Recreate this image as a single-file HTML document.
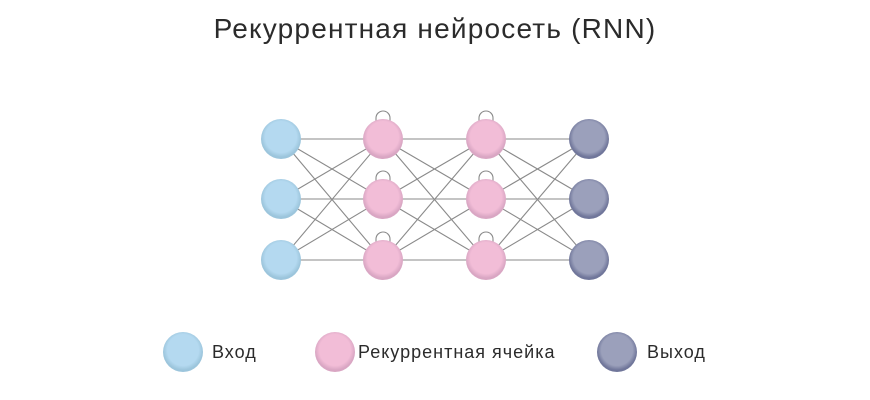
<!DOCTYPE html>
<html><head><meta charset="utf-8"><style>
html,body{margin:0;padding:0;background:#fff;}
svg{display:block}
</style></head><body>
<svg width="870" height="400" viewBox="0 0 870 400" xmlns="http://www.w3.org/2000/svg">
<defs>
<radialGradient id="b" cx="50%" cy="45%" r="50%"><stop offset="78%" stop-color="#b4d9f0"/><stop offset="100%" stop-color="#9cc5dc"/></radialGradient>
<radialGradient id="p" cx="50%" cy="45%" r="50%"><stop offset="78%" stop-color="#f2bdd7"/><stop offset="100%" stop-color="#d9a6c3"/></radialGradient>
<radialGradient id="g" cx="50%" cy="45%" r="50%"><stop offset="78%" stop-color="#9ba0bb"/><stop offset="100%" stop-color="#70769a"/></radialGradient>
</defs>
<text x="435" y="38" text-anchor="middle" font-family="Liberation Sans, DejaVu Sans, sans-serif" font-size="28" letter-spacing="1.2" fill="#2b2b2b">Рекуррентная нейросеть (RNN)</text>
<g stroke="#8a8a8a" stroke-width="1.1" fill="none" id="lines"></g>
<g id="nodes"></g>
<g font-family="Liberation Sans, DejaVu Sans, sans-serif" font-size="18" letter-spacing="1" fill="#2b2b2b">
<circle cx="183" cy="352" r="20" fill="url(#b)"/>
<text x="212" y="358">Вход</text>
<circle cx="335" cy="352" r="20" fill="url(#p)"/>
<text x="358" y="358">Рекуррентная ячейка</text>
<circle cx="617" cy="352" r="20" fill="url(#g)"/>
<text x="647" y="358">Выход</text>
</g>
<script>
var xs=[281,383,486,589],ys=[139,199,260],fills=['url(#b)','url(#p)','url(#p)','url(#g)'];
var L=document.getElementById('lines'),N=document.getElementById('nodes'),ns='http://www.w3.org/2000/svg';
for(var c=0;c<3;c++)for(var i=0;i<3;i++)for(var j=0;j<3;j++){var l=document.createElementNS(ns,'line');l.setAttribute('x1',xs[c]);l.setAttribute('y1',ys[i]);l.setAttribute('x2',xs[c+1]);l.setAttribute('y2',ys[j]);L.appendChild(l);}
for(var c=1;c<3;c++)for(var i=0;i<3;i++){var p=document.createElementNS(ns,'path');var x=xs[c],y=ys[i];p.setAttribute('d','M'+(x-7)+' '+(y-17)+' L'+(x-7)+' '+(y-21)+' A7 7 0 0 1 '+(x+7)+' '+(y-21)+' L'+(x+7)+' '+(y-17));L.appendChild(p);}
for(var c=0;c<4;c++)for(var i=0;i<3;i++){var k=document.createElementNS(ns,'circle');k.setAttribute('cx',xs[c]);k.setAttribute('cy',ys[i]);k.setAttribute('r',20);k.setAttribute('fill',fills[c]);N.appendChild(k);}
</script>
</svg>
</body></html>
